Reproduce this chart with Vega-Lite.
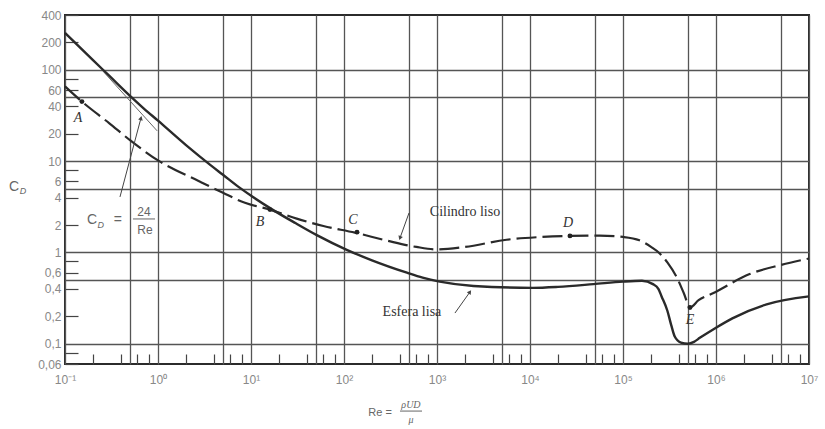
{
  "$schema": "https://vega.github.io/schema/vega-lite/v6.json",
  "width": 744,
  "height": 349,
  "autosize": {"type": "none"},
  "padding": {"left": 65, "top": 15, "right": 16, "bottom": 65},
  "background": "#ffffff",
  "config": {
    "view": {"stroke": "#2b2b2b", "strokeWidth": 2},
    "axis": {"domain": false, "labelFont": "Liberation Sans", "labelColor": "#888888", "labelFontSize": 12, "gridColor": "#555555", "gridWidth": 1.3, "tickColor": "#444444", "tickWidth": 1.2, "labelOverlap": false, "labelFlush": false}
  },
  "datasets": {
    "sphere": [
      {"Re": 0.1, "CD": 255}, {"Re": 0.2, "CD": 128}, {"Re": 0.3, "CD": 86}, {"Re": 0.5, "CD": 52}, {"Re": 0.7, "CD": 38},
      {"Re": 1, "CD": 27.8}, {"Re": 2, "CD": 15}, {"Re": 3.7, "CD": 9.0}, {"Re": 5, "CD": 7.1}, {"Re": 7.6, "CD": 5.1},
      {"Re": 10.5, "CD": 4.05}, {"Re": 17, "CD": 2.95}, {"Re": 30, "CD": 2.1}, {"Re": 51, "CD": 1.55}, {"Re": 107, "CD": 1.07},
      {"Re": 200, "CD": 0.82}, {"Re": 475, "CD": 0.6}, {"Re": 700, "CD": 0.53}, {"Re": 1070, "CD": 0.48}, {"Re": 2470, "CD": 0.43}, {"Re": 10700, "CD": 0.41},
      {"Re": 20000, "CD": 0.42}, {"Re": 48000, "CD": 0.45}, {"Re": 100000, "CD": 0.48}, {"Re": 160000, "CD": 0.49}, {"Re": 210000, "CD": 0.45},
      {"Re": 240000, "CD": 0.4}, {"Re": 260000, "CD": 0.33}, {"Re": 300000, "CD": 0.23}, {"Re": 330000, "CD": 0.16}, {"Re": 360000, "CD": 0.12},
      {"Re": 420000, "CD": 0.103}, {"Re": 500000, "CD": 0.1}, {"Re": 580000, "CD": 0.105}, {"Re": 670000, "CD": 0.116}, {"Re": 1000000, "CD": 0.15},
      {"Re": 1500000, "CD": 0.19}, {"Re": 3500000, "CD": 0.27}, {"Re": 10000000, "CD": 0.33}
    ],
    "cylinder": [
      {"Re": 0.1, "CD": 66}, {"Re": 0.152, "CD": 45}, {"Re": 0.3, "CD": 26}, {"Re": 0.5, "CD": 17}, {"Re": 1, "CD": 10.2},
      {"Re": 2.8, "CD": 6.0}, {"Re": 5, "CD": 4.5}, {"Re": 8.6, "CD": 3.5}, {"Re": 16, "CD": 2.95}, {"Re": 31, "CD": 2.35},
      {"Re": 60, "CD": 1.95}, {"Re": 131, "CD": 1.65}, {"Re": 290, "CD": 1.35}, {"Re": 600, "CD": 1.15}, {"Re": 1000, "CD": 1.08},
      {"Re": 2000, "CD": 1.15}, {"Re": 5600, "CD": 1.38}, {"Re": 12000, "CD": 1.47}, {"Re": 27000, "CD": 1.52}, {"Re": 56000, "CD": 1.53},
      {"Re": 100000, "CD": 1.48}, {"Re": 150000, "CD": 1.36}, {"Re": 200000, "CD": 1.15}, {"Re": 250000, "CD": 0.97}, {"Re": 300000, "CD": 0.78},
      {"Re": 380000, "CD": 0.53}, {"Re": 450000, "CD": 0.36}, {"Re": 525000, "CD": 0.25}, {"Re": 650000, "CD": 0.3}, {"Re": 940000, "CD": 0.36},
      {"Re": 2300000, "CD": 0.58}, {"Re": 5000000, "CD": 0.73}, {"Re": 10000000, "CD": 0.86}
    ],
    "stokes": [{"Re": 0.256, "CD": 97}, {"Re": 0.98, "CD": 21.5}],
    "leaders": [
      {"id": "s24", "ord": 1, "Re": 0.39, "CD": 4.06}, {"id": "s24", "ord": 2, "Re": 0.656, "CD": 29.7},
      {"id": "cyl", "ord": 1, "Re": 500, "CD": 2.71}, {"id": "cyl", "ord": 2, "Re": 400, "CD": 1.44},
      {"id": "sph", "ord": 1, "Re": 1560, "CD": 0.217}, {"id": "sph", "ord": 2, "Re": 2260, "CD": 0.369}
    ],
    "heads": [
      {"id": "s24", "Re": 0.656, "CD": 29.7}, {"id": "cyl", "Re": 400, "CD": 1.44}, {"id": "sph", "Re": 2260, "CD": 0.369}
    ],
    "dots": [
      {"Re": 0.152, "CD": 45}, {"Re": 16, "CD": 2.95}, {"Re": 138, "CD": 1.67}, {"Re": 26900, "CD": 1.52}, {"Re": 525000, "CD": 0.25}
    ],
    "texts": [
      {"label": "A", "kind": "letter", "Re": 0.138, "CD": 29.7},
      {"label": "B", "kind": "letter", "Re": 12.5, "CD": 2.16},
      {"label": "C", "kind": "letter", "Re": 125, "CD": 2.27},
      {"label": "D", "kind": "letter", "Re": 25600, "CD": 2.1},
      {"label": "E", "kind": "letter", "Re": 525000, "CD": 0.18},
      {"label": "Cilindro liso", "kind": "name", "Re": 2000, "CD": 2.78},
      {"label": "Esfera lisa", "kind": "name", "Re": 538, "CD": 0.223},
      {"label": "C", "kind": "big", "Re": 0.195, "CD": 2.27},
      {"label": "D", "kind": "sub", "Re": 0.242, "CD": 1.98},
      {"label": "=", "kind": "big", "Re": 0.371, "CD": 2.27},
      {"label": "24", "kind": "frac", "Re": 0.706, "CD": 2.8},
      {"label": "Re", "kind": "frac", "Re": 0.724, "CD": 1.76},
      {"label": "C", "kind": "big", "Re": 0.0283, "CD": 5.2},
      {"label": "D", "kind": "sub", "Re": 0.0353, "CD": 4.72},
      {"label": "Re =", "kind": "xt", "Re": 244, "CD": 0.0174},
      {"label": "ρUD", "kind": "xti", "Re": 525, "CD": 0.0213},
      {"label": "μ", "kind": "xti", "Re": 525, "CD": 0.0146}
    ],
    "bars": [
      {"Re": 0.538, "Re2": 0.929, "CD": 2.33},
      {"Re": 400, "Re2": 690, "CD": 0.0183}
    ]
  },
  "encoding": {
    "x": {
      "field": "Re", "type": "quantitative", "title": null,
      "scale": {"type": "log", "domain": [0.1, 10000000]},
      "axis": {
        "values": [0.1, 0.2, 0.4, 0.5, 0.6, 0.8, 1, 2, 4, 5, 6, 8, 10, 20, 40, 50, 60, 80, 100, 200, 400, 500, 600, 800, 1000, 2000, 4000, 5000, 6000, 8000, 10000, 20000, 40000, 50000, 60000, 80000, 100000, 200000, 400000, 500000, 600000, 800000, 1000000, 2000000, 4000000, 5000000, 6000000, 8000000, 10000000],
        "grid": true,
        "gridOpacity": {"condition": {"test": "round(datum.value / pow(10, floor(log(datum.value) / LN10 + 1e-6))) == 1 || round(datum.value / pow(10, floor(log(datum.value) / LN10 + 1e-6))) == 5", "value": 1}, "value": 0},
        "ticks": true,
        "tickSize": {"condition": {"test": "round(datum.value / pow(10, floor(log(datum.value) / LN10 + 1e-6))) % 2 == 0", "value": -10}, "value": 0},
        "labelExpr": "round(datum.value / pow(10, floor(log(datum.value) / LN10 + 1e-6))) == 1 ? '10' + ['⁻¹','⁰','¹','²','³','⁴','⁵','⁶','⁷'][round(log(datum.value) / LN10) + 1] : ''",
        "labelPadding": 10
      }
    },
    "y": {
      "field": "CD", "type": "quantitative", "title": null,
      "scale": {"type": "log", "domain": [0.06, 400]},
      "axis": {
        "values": [0.06, 0.08, 0.1, 0.2, 0.4, 0.5, 0.6, 0.8, 1, 2, 4, 5, 6, 8, 10, 20, 40, 50, 60, 80, 100, 200, 400],
        "grid": true,
        "gridOpacity": {"condition": {"test": "round(datum.value / pow(10, floor(log(datum.value) / LN10 + 1e-6))) == 1 || round(datum.value / pow(10, floor(log(datum.value) / LN10 + 1e-6))) == 5", "value": 1}, "value": 0},
        "ticks": true,
        "tickSize": {"condition": {"test": "round(datum.value / pow(10, floor(log(datum.value) / LN10 + 1e-6))) % 2 == 0", "value": -13}, "value": 0},
        "labelPadding": {"condition": {"test": "round(datum.value / pow(10, floor(log(datum.value) / LN10 + 1e-6))) % 2 == 0", "value": 17}, "value": 4},
        "labelExpr": "indexof([1, 2, 4, 6], round(datum.value / pow(10, floor(log(datum.value) / LN10 + 1e-6)))) >= 0 ? replace(format(datum.value, '~g'), '.', ',') : ''"
      }
    }
  },
  "layer": [
    {"data": {"name": "stokes"}, "mark": {"type": "line", "color": "#666666", "strokeWidth": 1}},
    {"data": {"name": "sphere"}, "mark": {"type": "line", "interpolate": "monotone", "color": "#2a2a2a", "strokeWidth": 2.4}},
    {"data": {"name": "cylinder"}, "mark": {"type": "line", "interpolate": "monotone", "color": "#2a2a2a", "strokeWidth": 2.2, "strokeDash": [20, 6]}},
    {"data": {"name": "leaders"}, "mark": {"type": "line", "color": "#444444", "strokeWidth": 1}, "encoding": {"detail": {"field": "id"}, "order": {"field": "ord"}}},
    {"data": {"name": "heads"}, "transform": [{"filter": "datum.id == 's24'"}], "mark": {"type": "point", "shape": "triangle-up", "filled": true, "color": "#444444", "size": 22, "angle": 15, "opacity": 1}},
    {"data": {"name": "heads"}, "transform": [{"filter": "datum.id == 'cyl'"}], "mark": {"type": "point", "shape": "triangle-up", "filled": true, "color": "#444444", "size": 22, "angle": 200, "opacity": 1}},
    {"data": {"name": "heads"}, "transform": [{"filter": "datum.id == 'sph'"}], "mark": {"type": "point", "shape": "triangle-up", "filled": true, "color": "#444444", "size": 22, "angle": 35, "opacity": 1}},
    {"data": {"name": "dots"}, "mark": {"type": "point", "filled": true, "color": "#222222", "size": 24, "opacity": 1}},
    {"data": {"name": "bars"}, "mark": {"type": "rule", "color": "#666666", "strokeWidth": 1}, "encoding": {"x2": {"field": "Re2"}}},
    {"data": {"name": "texts"}, "transform": [{"filter": "datum.kind == 'letter'"}], "mark": {"type": "text", "font": "Liberation Serif", "fontStyle": "italic", "fontSize": 14, "color": "#333333"}, "encoding": {"text": {"field": "label"}}},
    {"data": {"name": "texts"}, "transform": [{"filter": "datum.kind == 'name'"}], "mark": {"type": "text", "font": "Liberation Serif", "fontSize": 14, "color": "#333333"}, "encoding": {"text": {"field": "label"}}},
    {"data": {"name": "texts"}, "transform": [{"filter": "datum.kind == 'big'"}], "mark": {"type": "text", "font": "Liberation Sans", "fontSize": 14, "color": "#666666"}, "encoding": {"text": {"field": "label"}}},
    {"data": {"name": "texts"}, "transform": [{"filter": "datum.kind == 'sub'"}], "mark": {"type": "text", "font": "Liberation Sans", "fontStyle": "italic", "fontSize": 9, "color": "#666666"}, "encoding": {"text": {"field": "label"}}},
    {"data": {"name": "texts"}, "transform": [{"filter": "datum.kind == 'frac'"}], "mark": {"type": "text", "font": "Liberation Sans", "fontSize": 12, "color": "#666666"}, "encoding": {"text": {"field": "label"}}},
    {"data": {"name": "texts"}, "transform": [{"filter": "datum.kind == 'xt'"}], "mark": {"type": "text", "font": "Liberation Sans", "fontSize": 11, "color": "#666666"}, "encoding": {"text": {"field": "label"}}},
    {"data": {"name": "texts"}, "transform": [{"filter": "datum.kind == 'xti'"}], "mark": {"type": "text", "font": "Liberation Serif", "fontStyle": "italic", "fontSize": 10, "color": "#666666"}, "encoding": {"text": {"field": "label"}}}
  ]
}
